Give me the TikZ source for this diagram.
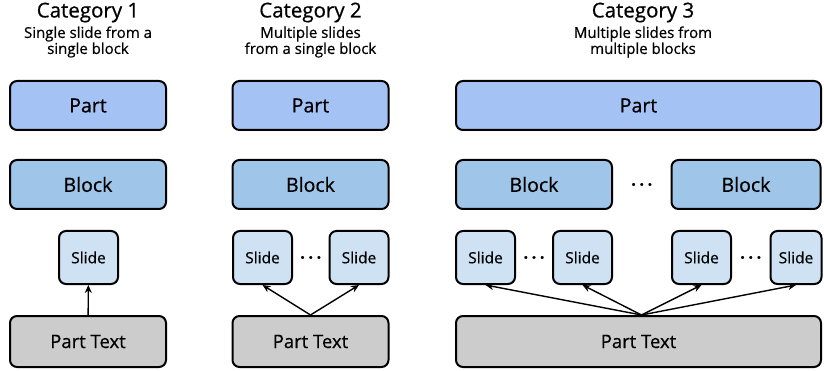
\documentclass[tikz,border=0pt]{standalone}
\usepackage{fontspec}
\setmainfont{Open Sans}[FakeBold=0.6]
\usetikzlibrary{arrows, arrows.meta, positioning, calc}

\definecolor{partblue}{HTML}{A4C2F4}
\definecolor{blockblue}{HTML}{9FC5E8}
\definecolor{slideblue}{HTML}{CFE2F3}
\definecolor{textgray}{HTML}{CCCCCC}

\newcommand{\gapdots}{.\kern3.6pt.\kern3.6pt.}

\begin{document}
\begin{tikzpicture}[x=1pt, y=-1pt]
		\tikzstyle{Part} = [rectangle, rounded corners=7pt, minimum width=156pt, minimum height=49pt, text centered, draw=black, fill=partblue, line width=2pt, font=\fontsize{19.5}{21}\selectfont]
		\tikzstyle{Block} = [Part, fill=blockblue]
		\tikzstyle{Slide} = [rectangle, rounded corners=7pt, minimum width=59pt, minimum height=53pt, text centered, draw=black, fill=slideblue, line width=2pt, font=\fontsize{15.5}{17}\selectfont]
		\tikzstyle{PartText} = [Part, minimum height=51pt, fill=textgray, font=\fontsize{18.5}{21}\selectfont]
		\tikzstyle{Title} = [font=\fontsize{20.5}{21}\selectfont, inner sep=0pt]
		\tikzstyle{Sub} = [font=\fontsize{15}{14.5}\selectfont, align=center, inner sep=0pt]
		\tikzstyle{Dots} = [font=\fontsize{16}{16}\selectfont\bfseries, inner sep=0pt]
		\tikzstyle{arrow} = [line width=1.4pt, -{Stealth[length=8pt, width=7pt]}]

		\useasboundingbox (0,0) rectangle (824,371);

		% Category 1
		\node (title1) [Title] at (88,12.5) {Category 1};
		\node (sub1) [Sub] at (88,42) {Single slide from a\\single block};
		\node (part1) [Part] at (88,105.5) {Part};
		\node (block1) [Block] at (88,184.5) {Block};
		\node (slide1) [Slide] at (88.5,257.5) {Slide};
		\node (text1) [PartText] at (88,341.5) {Part Text};
		\draw [arrow] (text1) -- (slide1);

		% Category 2
		\node (title2) [Title] at (310.5,12.5) {Category 2};
		\node (sub2) [Sub] at (310.5,42) {Multiple slides\\from a single block};
		\node (part2) [Part] at (310.5,105.5) {Part};
		\node (block2) [Block] at (310.5,184.5) {Block};
		\node (slide21) [Slide] at (262.5,257.5) {Slide};
		\node (slide22) [Slide] at (359,257.5) {Slide};
		\node (dots2) [Dots] at ($(slide21)!0.5!(slide22)$) {\gapdots};
		\node (text2) [PartText] at (310.5,341.5) {Part Text};
		\draw [arrow] (text2.north) -- (slide21.south);
		\draw [arrow] (text2.north) -- (slide22.south);

		% Category 3
		\node (title3) [Title] at (643,12.5) {Category 3};
		\node (sub3) [Sub] at (643,42) {Multiple slides from\\multiple blocks};
		\node (part3) [Part, minimum width=365pt] at (638.5,105.5) {Part};
		\node (block31) [Block] at (534,184.5) {Block};
		\node (block32) [Block, minimum width=149pt] at (746,184.5) {Block};
		\node (dots31) [Dots] at ($(block31.east)!0.5!(block32.west)$) {\gapdots};
		\node (slide31) [Slide] at (485.5,257.5) {Slide};
		\node (slide32) [Slide] at (582.5,257.5) {Slide};
		\node (slide33) [Slide] at (701.5,257.5) {Slide};
		\node (slide34) [Slide, minimum width=51pt] at (796,257.5) {Slide};
		\node (dots32) [Dots] at ($(slide31.east)!0.5!(slide32.west)$) {\gapdots};
		\node (dots33) [Dots] at ($(slide33.east)!0.5!(slide34.west)$) {\gapdots};
		\node (text3) [PartText, minimum width=365pt] at (638.5,341.5) {Part Text};
		\coordinate (start3) at ($(text3.north)+(3,0)$);
		\foreach \s in {slide31, slide32, slide33, slide34}
			\draw [arrow] (start3) -- (\s.south);
\end{tikzpicture}
\end{document}
